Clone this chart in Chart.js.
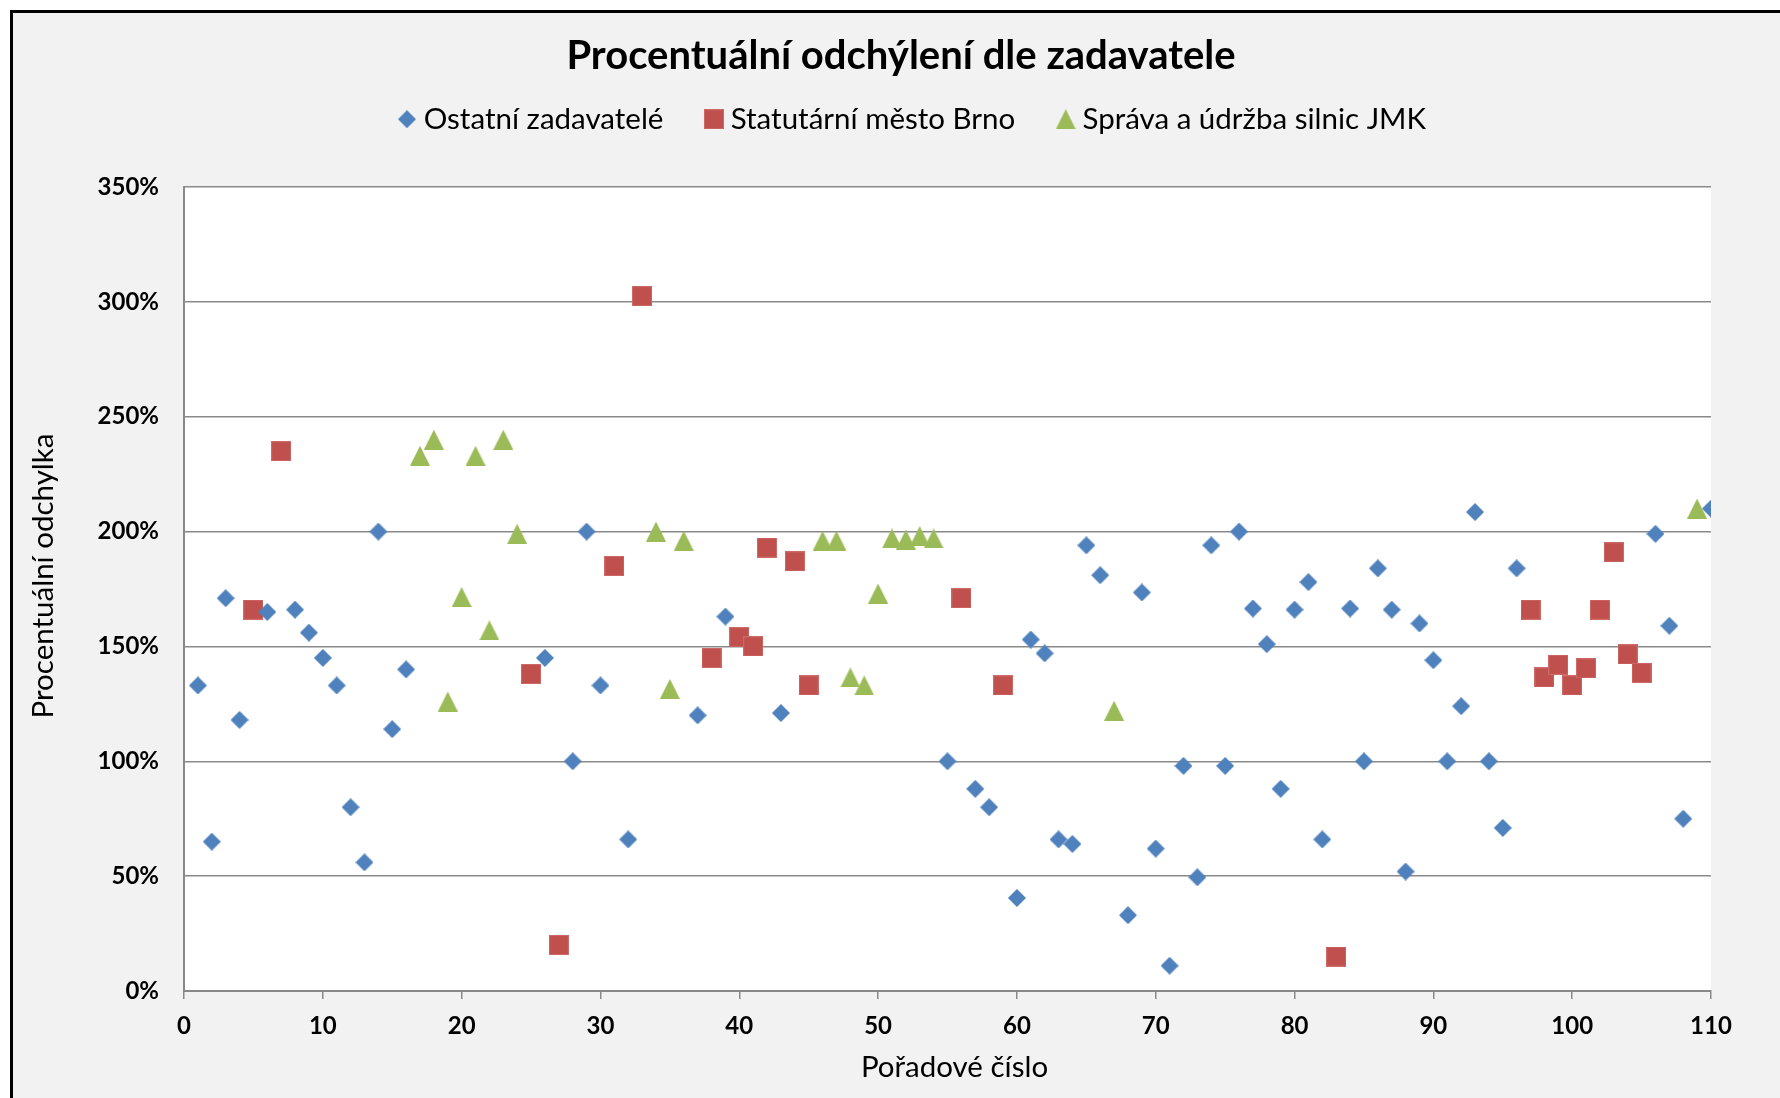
<!DOCTYPE html>
<html>
<head>
<meta charset="utf-8">
<script src="https://cdn.jsdelivr.net/npm/chart.js@4/dist/chart.umd.min.js"></script>
<style>
  html, body { margin: 0; padding: 0; background: #fff; overflow: hidden; }
  #wrap { width: 1780px; height: 1098px; position: relative; overflow: hidden; }
</style>
</head>
<body>
<div id="wrap"><canvas id="myChart" width="1802" height="1098"></canvas></div>
<script>
// data (x = pořadové číslo, y = odchylka v %)
const ostatniX = [1, 2, 3, 4, 6, 8, 9, 10, 11, 12, 13, 14, 15, 16, 26, 28, 29, 30, 32, 37, 39, 43,
  55, 57, 58, 60, 61, 62, 63, 64, 65, 66, 68, 69, 70, 71, 72, 73, 74, 75, 76, 77, 78, 79, 80, 81, 82,
  84, 85, 86, 87, 88, 89, 90, 91, 92, 93, 94, 95, 96, 106, 107, 108, 110];
const ostatniY = [133, 65, 171, 118, 165, 166, 156, 145, 133, 80, 56, 200, 114, 140, 145, 100, 200, 133, 66, 120, 163, 121,
  100, 88, 80, 40.5, 153, 147, 66, 64, 194, 181, 33, 173.5, 62, 11, 98, 49.5, 194, 98, 200, 166.5, 151, 88, 166, 178, 66,
  166.5, 100, 184, 166, 52, 160, 144, 100, 124, 208.5, 100, 71, 184, 199, 159, 75, 210];

const brnoX = [5, 7, 25, 27, 31, 33, 38, 40, 41, 42, 44, 45, 56, 59, 83, 97, 98, 99, 100, 101, 102, 103, 104, 105];
const brnoY = [166, 235, 138, 20, 185, 302.5, 145, 154, 150, 193, 187, 133, 171, 133, 15, 166, 136.5, 142, 133, 140.5, 166, 191, 146.5, 138.5];

const jmkX = [17, 18, 19, 20, 21, 22, 23, 24, 34, 35, 36, 46, 47, 48, 49, 50, 51, 52, 53, 54, 67, 109];
const jmkY = [233, 240, 126, 171.5, 233, 157, 240, 199, 200, 131.5, 196, 196, 196, 136.5, 133, 173, 197, 196.5, 198, 197, 122, 210];

const seriesNames = ['Ostatní zadavatelé', 'Statutární město Brno', 'Správa a údržba silnic JMK'];
const xTicks = [0, 10, 20, 30, 40, 50, 60, 70, 80, 90, 100, 110];
const yTicks = [0, 50, 100, 150, 200, 250, 300, 350];

const toPoints = (xs, ys) => xs.map((x, i) => ({ x: x, y: ys[i] }));

const FONT = 'Lato, "Open Sans", sans-serif';
const gridGray = '#898989';

// excel style markers, centred on their bounding box
function marker(w, h, color, path, edge) {
  const c = document.createElement('canvas');
  c.width = w;
  c.height = h;
  const g = c.getContext('2d');
  g.fillStyle = color;
  g.beginPath();
  path(g, w, h);
  g.closePath();
  g.fill();
  if (edge) {
    g.strokeStyle = edge;
    g.lineWidth = 1;
    g.strokeRect(0.5, 0.5, w - 1, h - 1);
  }
  return c;
}
const diamond = marker(18, 18, '#4f81bd', (g, w, h) => {
  g.moveTo(w / 2, 0); g.lineTo(w, h / 2); g.lineTo(w / 2, h); g.lineTo(0, h / 2);
});
const square = marker(20, 20, '#c0504d', (g, w, h) => { g.rect(0, 0, w, h); }, '#cd6a67');
const triangle = marker(20, 20, '#9bbb59', (g, w, h) => {
  g.moveTo(w / 2, 0); g.lineTo(w, h); g.lineTo(0, h);
});

function nudgeTitle(scale, dx, dy) {
  if (scale._nudged) return;
  const draw = scale.drawTitle;
  scale.drawTitle = function () {
    this.ctx.save();
    this.ctx.translate(dx, dy);
    draw.call(this);
    this.ctx.restore();
  };
  scale._nudged = true;
}

// grey frame with black top/left edge, white plot area
const backdrop = {
  id: 'backdrop',
  beforeInit(chart) {
    // leave room between legend and plot, like the excel original
    const fit = chart.legend.fit;
    chart.legend.fit = function () {
      fit.call(this);
      this.height = 131;
    };
  },
  afterLayout(chart) {
    chart.legend.left += 14.5;
    chart.legend.right += 14.5;
    nudgeTitle(chart.scales.y, 0, -13);
    nudgeTitle(chart.scales.x, 7, 0);
  },
  beforeDraw(chart) {
    const { ctx, width, height, chartArea } = chart;
    ctx.save();
    ctx.fillStyle = '#ffffff';
    ctx.fillRect(0, 0, width, height);
    ctx.fillStyle = '#f2f2f2';
    ctx.fillRect(10, 10, width, height);
    ctx.strokeStyle = '#000000';
    ctx.lineWidth = 3;
    ctx.beginPath();
    ctx.moveTo(11.5, height);
    ctx.lineTo(11.5, 11.5);
    ctx.lineTo(width, 11.5);
    ctx.stroke();
    ctx.fillStyle = '#ffffff';
    ctx.fillRect(chartArea.left, chartArea.top, chartArea.right - chartArea.left, chartArea.bottom - chartArea.top);
    ctx.restore();
  }
};

const canvas = document.getElementById('myChart');
const chart = new Chart(canvas.getContext('2d'), {
  type: 'scatter',
  data: {
    datasets: [
      {
        label: seriesNames[0],
        data: toPoints(ostatniX, ostatniY),
        pointStyle: diamond,
        backgroundColor: '#4f81bd',
        borderColor: '#4f81bd'
      },
      {
        label: seriesNames[1],
        data: toPoints(brnoX, brnoY),
        pointStyle: square,
        backgroundColor: '#c0504d',
        borderColor: '#c0504d'
      },
      {
        label: seriesNames[2],
        data: toPoints(jmkX, jmkY),
        pointStyle: triangle,
        backgroundColor: '#9bbb59',
        borderColor: '#9bbb59'
      }
    ]
  },
  options: {
    responsive: false,
    animation: false,
    layout: { padding: { left: 0, right: 0, top: 0, bottom: 0 } },
    plugins: {
      title: {
        display: true,
        text: 'Procentuální odchýlení dle zadavatele',
        color: '#000',
        font: { family: FONT, size: 40, weight: 'bold', lineHeight: 1.2 },
        padding: { top: 31.6, bottom: -23.6 }
      },
      legend: {
        position: 'top',
        labels: {
          usePointStyle: true,
          boxWidth: 4,
          boxHeight: 17,
          padding: 48.5,
          color: '#000',
          font: { family: FONT, size: 29.5 }
        }
      },
      tooltip: { enabled: false }
    },
    scales: {
      x: {
        type: 'linear',
        min: 0,
        max: 110,
        afterBuildTicks: (axis) => { axis.ticks = xTicks.map(v => ({ value: v })); },
        afterFit: (axis) => { axis.height = 107; },
        grid: { drawOnChartArea: false, drawTicks: true, tickLength: 8, color: gridGray, lineWidth: 1.5 },
        border: { color: gridGray, width: 2 },
        ticks: { color: '#000', padding: 12.6, maxRotation: 0, font: { family: FONT, size: 24, weight: 'bold' } },
        title: {
          display: true,
          text: 'Pořadové číslo',
          color: '#000',
          font: { family: FONT, size: 29.5 },
          padding: { top: 0, bottom: 13.3 }
        }
      },
      y: {
        min: 0,
        max: 350,
        afterBuildTicks: (axis) => { axis.ticks = yTicks.map(v => ({ value: v })); },
        afterFit: (axis) => { axis.width = 184; },
        grid: { drawTicks: false, color: gridGray, lineWidth: 1.5 },
        border: { color: gridGray, width: 2 },
        ticks: {
          color: '#000',
          padding: 25,
          font: { family: FONT, size: 24, weight: 'bold' },
          callback: (v) => v + '%'
        },
        title: {
          display: true,
          text: 'Procentuální odchylka',
          color: '#000',
          font: { family: FONT, size: 29.5 },
          padding: { top: 25.3, bottom: 0 }
        }
      },
      // empty box on the right: the original chart runs past the picture edge
      yRight: {
        position: 'right',
        display: true,
        afterFit: (axis) => { axis.width = 91; },
        grid: { display: false },
        border: { display: false },
        ticks: { display: false }
      }
    }
  },
  plugins: [backdrop]
});
</script>
</body>
</html>
